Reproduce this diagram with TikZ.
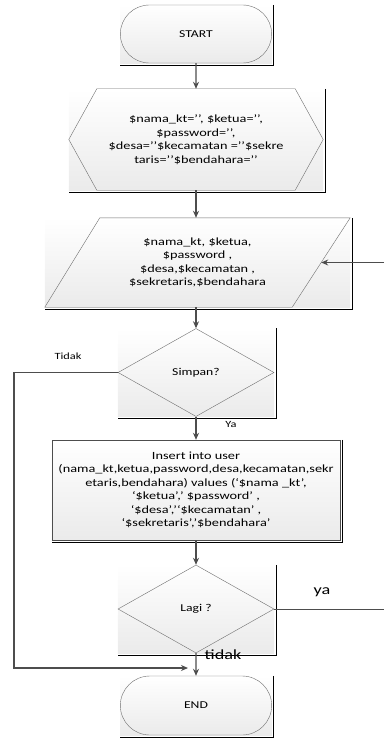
\documentclass[tikz,border=0pt]{standalone}
\usepackage{fontspec}
\setmainfont[FakeStretch=1.3]{Carlito}
\usepackage{xcolor}
\usepackage{tikz}
\usetikzlibrary{shapes.geometric}
\usetikzlibrary{shapes.misc}
\usetikzlibrary{arrows.meta}
\usetikzlibrary{backgrounds}

\definecolor{outline}{HTML}{6E6E6E}
\definecolor{flowline}{HTML}{4D4D4D}

% shaded box with a dark edge on the right and at the bottom
\newcommand{\framebg}[1]{%
  \path (#1.east |- #1.north) coordinate (#1-ne)
        (#1.east |- #1.south) coordinate (#1-se)
        (#1.west |- #1.south) coordinate (#1-sw);
  \fill[top color=white,bottom color=gray!16] (#1-sw) rectangle (#1-ne);
  \draw[black,line width=0.8pt] ([xshift=2pt]#1-ne) -- ([xshift=2pt,yshift=-2pt]#1-se) -- ([yshift=-2pt]#1-sw);}

\begin{document}
\begin{tikzpicture}[x=1pt, y=-1pt, >={Stealth[length=7pt,width=6pt]},
  term/.style={rounded rectangle, draw=outline, minimum width=158pt, minimum height=58pt, font=\fontsize{10.5}{12}\selectfont},
  prep/.style={rectangle, minimum width=254pt, minimum height=101pt, inner sep=0pt, align=center, font=\fontsize{11}{13.5}\selectfont},
  io/.style={rectangle, minimum width=305pt, minimum height=89pt, inner sep=0pt, align=center, font=\fontsize{11}{13.5}\selectfont},
  decision/.style={diamond, draw=outline, minimum width=156pt, minimum height=88pt, inner sep=0pt, font=\fontsize{10.5}{12}\selectfont},
  process/.style={rectangle, draw=flowline, top color=white, bottom color=gray!16, minimum width=288pt, minimum height=100pt, inner sep=0pt, align=center, font=\fontsize{11}{13.5}\selectfont},
  flow/.style={->, draw=flowline, line width=1.4pt},
  thinflow/.style={draw=flowline, line width=0.9pt},
  smalllbl/.style={inner sep=0pt, font=\fontsize{9.5}{11}\selectfont},
  biglbl/.style={inner sep=0pt, font=\fontsize{14}{16}\selectfont}]
\useasboundingbox (0,0) rectangle (384,738);

\node[term] (start) at (196,34) {START};
\node[prep] (init) at (196,139.5) {\$nama\_kt=’’, \$ketua=’’,\\\$password=’’,\\\$desa=’’\$kecamatan =’’\$sekre\\taris=’’\$bendahara=’’};
\draw[outline] (init.west) -- ([xshift=28pt]init.north west) -- ([xshift=-28pt]init.north east) -- (init.east)
  -- ([xshift=-28pt]init.south east) -- ([xshift=28pt]init.south west) -- cycle;
\node[io] (input) at (197.5,262.5) {\$nama\_kt, \$ketua,\\\$password ,\\\$desa,\$kecamatan ,\\\$sekretaris,\$bendahara};
\draw[outline] ([xshift=55pt]input.north west) -- (input.north east) -- ([xshift=-58pt]input.south east)
  -- (input.south west) -- cycle;
\node[decision] (simpan) at (196,372.5) {Simpan?};
\node[process] (insert) at (196,490) {Insert into user\\(nama\_kt,ketua,password,desa,kecamatan,sekr\\etaris,bendahara) values (‘\$nama \_kt’,\\‘\$ketua’,’ \$password’ ,\\‘\$desa’,’‘\$kecamatan’ ,\\‘\$sekretaris’,’\$bendahara’};
\node[decision] (lagi) at (196,609) {Lagi ?};
\node[term, minimum height=59pt] (end) at (196,705.5) {END};

\node[smalllbl] (tidaklbl) at (68,356) {Tidak};
\node[smalllbl] (yalbl) at (231,424) {Ya};
\node[biglbl] (lagiya) at (322,592) {ya};
\node[biglbl] (lagitidak) at (223,655) {tidak};

\coordinate (yaout) at (384,609);
\coordinate (yain) at (384,262.5);
\coordinate (loopcorner) at (14,372.5);
\coordinate (tidakend) at (188,668);

\draw[flow] (start) -- (init);
\draw[flow] (init) -- (init |- input.north);
\draw[flow] (simpan |- input.south) -- (simpan);
\draw[flow] (simpan) -- (insert);
\draw[flow] (insert) -- (lagi);
\draw[flow] (lagi) -- (end);
\draw[flow] (simpan) -- (loopcorner) |- (tidakend);
\draw[thinflow] (lagi) -- (yaout);
\draw[thinflow,->] (yain) -- ([xshift=-29pt]input.east);

\begin{scope}[on background layer]
\framebg{start}
\framebg{init}
\framebg{input}
\framebg{simpan}
\framebg{insert}
\framebg{lagi}
\framebg{end}
\end{scope}
\end{tikzpicture}
\end{document}
